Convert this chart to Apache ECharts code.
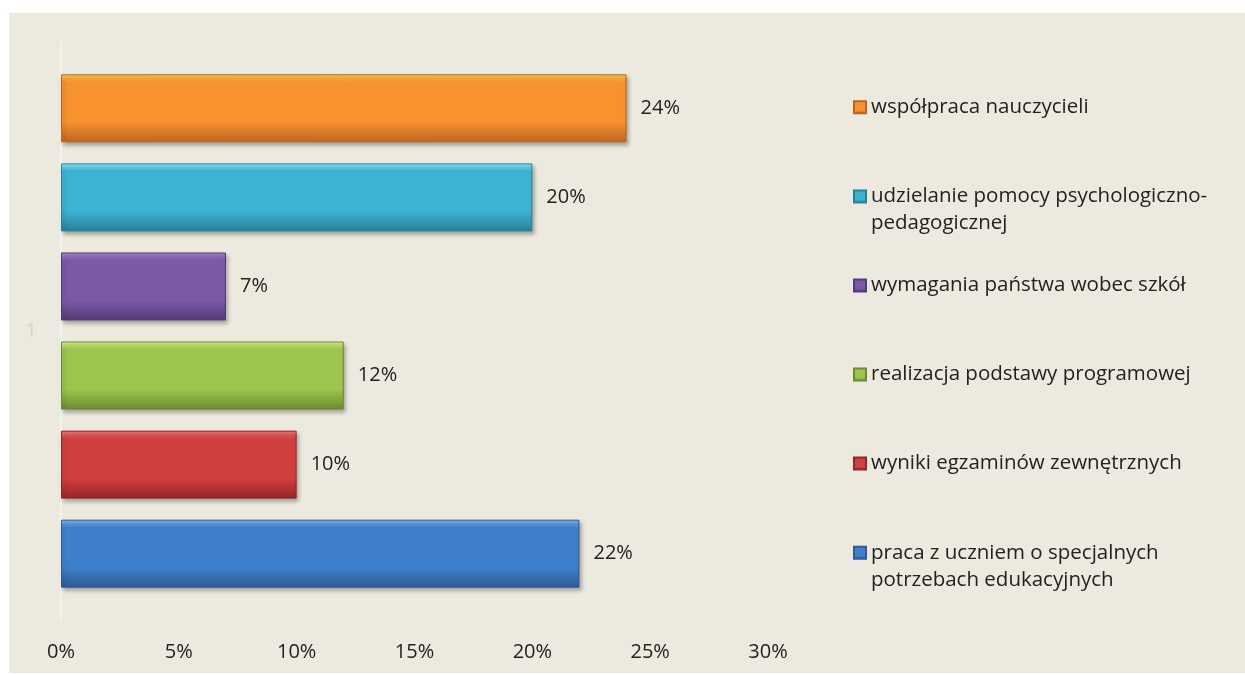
<!DOCTYPE html>
<html>
<head>
<meta charset="utf-8">
<script src="https://cdn.jsdelivr.net/npm/echarts@6/dist/echarts.min.js"></script>
<style>
  html, body { margin: 0; padding: 0; background: #ffffff; }
  #chart { position: absolute; left: 9px; top: 13px; width: 1236px; height: 660px; background: #ECE9DF; }
</style>
</head>
<body>
<div id="chart"></div>
<script>
// data, top bar first
const categories = ['1'];
const seriesNames = [
  'współpraca nauczycieli',
  'udzielanie pomocy psychologiczno-pedagogicznej',
  'wymagania państwa wobec szkół',
  'realizacja podstawy programowej',
  'wyniki egzaminów zewnętrznych',
  'praca z uczniem o specjalnych potrzebach edukacyjnych'
];
const legendLines = [
  ['współpraca nauczycieli'],
  ['udzielanie pomocy psychologiczno-', 'pedagogicznej'],
  ['wymagania państwa wobec szkół'],
  ['realizacja podstawy programowej'],
  ['wyniki egzaminów zewnętrznych'],
  ['praca z uczniem o specjalnych', 'potrzebach edukacyjnych']
];
const values = [24, 20, 7, 12, 10, 22];
const xTicks = [0, 5, 10, 15, 20, 25, 30];

// top highlight, body, bottom shade
const palette = [
  ['#FFCB55', '#F7922F', '#BF641F'],
  ['#86EEFF', '#3CB3D4', '#29809A'],
  ['#A589D0', '#7B5AA6', '#533A78'],
  ['#DDF588', '#9DC54B', '#6C8B32'],
  ['#F27C7C', '#D23F3F', '#962626'],
  ['#7DB6F5', '#3F80CD', '#2C5B96']
];

const chart = echarts.init(document.getElementById('chart'));

const fontFamily = '"Open Sans", Lato, sans-serif';
const gridTop = 29, gridBottom = 53, chartH = 660;
const barWidth = 68, barGapRatio = 0.31;
const plotH = chartH - gridTop - gridBottom;
const lineH = 27;

function grad(c) {
  return new echarts.graphic.LinearGradient(0, 0, 0, 1, [
    { offset: 0, color: c[0] },
    { offset: 0.12, color: c[1] },
    { offset: 0.7, color: c[1] },
    { offset: 1, color: c[2] }
  ]);
}

// one legend per series so each sits next to its bar
const legends = seriesNames.map((name, i) => {
  const n = seriesNames.length;
  const center = gridTop + plotH / 2 + (i - (n - 1) / 2) * barWidth * (1 + barGapRatio);
  const lines = legendLines[i];
  // for wrapped names, a blank first line keeps the icon beside the first line
  const text = lines.length > 1 ? '\n' + lines.join('\n') : lines[0];
  const blockLines = lines.length > 1 ? 3 : 1;
  return {
    data: [name],
    left: 844,
    top: center - lineH * blockLines / 2 - 1,
    padding: 0,
    orient: 'vertical',
    icon: 'rect',
    itemWidth: 12,
    itemHeight: 12,
    itemGap: 0,
    selectedMode: false,
    formatter: () => text,
    textStyle: {
      fontFamily: fontFamily,
      fontSize: 20.5,
      color: '#222',
      lineHeight: lineH
    }
  };
});

const option = {
  animation: false,
  textStyle: { fontFamily: fontFamily },
  grid: { left: 52, right: 477, top: gridTop, bottom: gridBottom },
  legend: legends,
  xAxis: {
    type: 'value',
    min: xTicks[0],
    max: xTicks[xTicks.length - 1],
    interval: xTicks[1] - xTicks[0],
    axisLine: { show: false },
    axisTick: { show: false },
    splitLine: { show: false },
    axisLabel: { formatter: '{value}%', fontSize: 20, color: '#222', margin: 22 }
  },
  yAxis: {
    type: 'category',
    data: categories,
    axisTick: { show: false },
    axisLine: { lineStyle: { color: '#F6F5F0', width: 1.5 } },
    axisLabel: { fontSize: 20, color: '#D6D4CC', margin: 24 }
  },
  series: seriesNames.map((name, i) => ({
    name: name,
    type: 'bar',
    data: [values[i]],
    barWidth: barWidth,
    barGap: barGapRatio * 100 + '%',
    itemStyle: {
      color: grad(palette[i]),
      borderColor: palette[i][2],
      borderWidth: 1,
      shadowColor: 'rgba(0,0,0,0.3)',
      shadowBlur: 4,
      shadowOffsetX: 2,
      shadowOffsetY: 3
    },
    label: {
      show: true,
      position: 'right',
      distance: 14,
      formatter: '{c}%',
      fontSize: 20,
      color: '#222'
    }
  }))
};

chart.setOption(option);
window.addEventListener('resize', chart.resize);
</script>
</body>
</html>
